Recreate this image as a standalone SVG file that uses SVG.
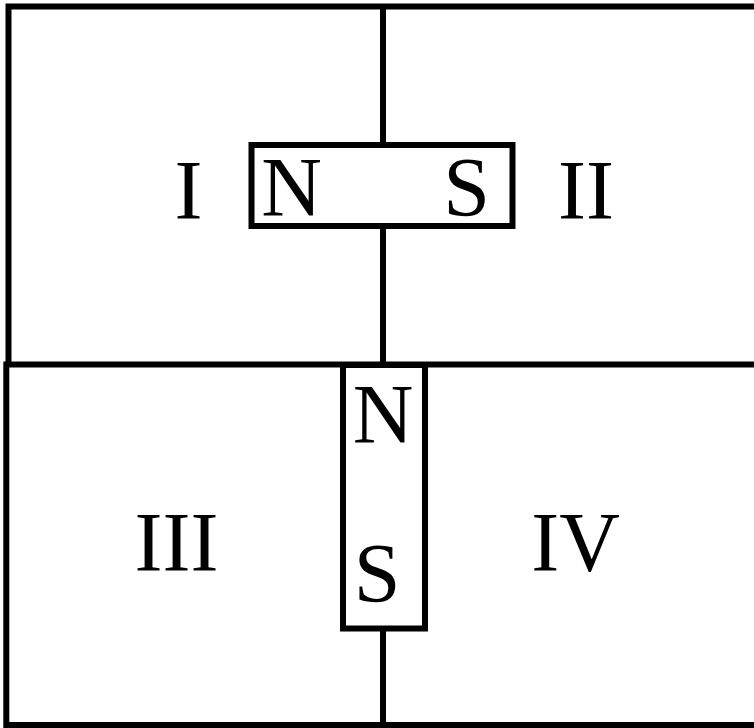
<svg xmlns="http://www.w3.org/2000/svg" width="754" height="728" viewBox="0 0 754 728">
<style>
.ln{stroke:#000;stroke-width:6;fill:none;stroke-linecap:square}
.mag{stroke:#000;stroke-width:6;fill:#fff}
.t{font-family:"Liberation Serif","Times New Roman",serif;font-size:84px;fill:#000;text-anchor:middle}
</style>
<rect width="754" height="728" fill="#fff"/>
<g id="connectors">
<path class="ln" d="M8.5,6.5 H754 M8.5,6.5 V364.5 M6.3,364.5 V725 M6.3,364.5 H754 M6.3,725 H754 M383,6.5 V145 M383,226 V364.5 M383,628.5 V725"/>
</g>
<g id="magnet-top">
<rect class="mag" x="251.5" y="145" width="261" height="81"/>
<text class="t" x="291.5" y="216">N</text>
<text class="t" x="466.5" y="216">S</text>
</g>
<g id="magnet-bottom">
<rect class="mag" x="343" y="365" width="82" height="263.5"/>
<text class="t" x="383" y="443">N</text>
<text class="t" x="377" y="602">S</text>
</g>
<g id="region-I"><text class="t" x="188.5" y="219">I</text></g>
<g id="region-II"><text class="t" x="586" y="219">II</text></g>
<g id="region-III"><text class="t" x="176.5" y="571">III</text></g>
<g id="region-IV"><text class="t" x="575.5" y="571">IV</text></g>
</svg>
